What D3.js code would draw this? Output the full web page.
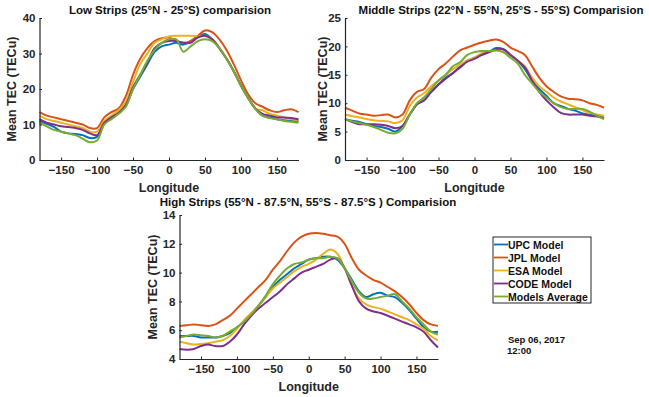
<!DOCTYPE html>
<html>
<head>
<meta charset="utf-8">
<script src="https://cdn.jsdelivr.net/npm/d3@7"></script>
<style>
  body { margin: 0; background: #fff; }
  svg { font-family: "Liberation Sans", Arial, sans-serif; font-weight: bold; }
</style>
</head>
<body>
<div id="chart"></div>
<script>
// longitudes (every 10 deg)
const lon = d3.range(-180, 181, 10);

const models = ["UPC Model", "JPL Model", "ESA Model", "CODE Model", "Models Average"];
const colors = ["#0072BD", "#D95319", "#EDB120", "#7E2F8E", "#77AC30"];

// Low strips
const lowUPC = [11, 10.2, 9.3, 8, 7.5, 7.3, 7, 6.2, 6.5, 10.5, 12, 13.5, 15.5, 20, 23.5, 27, 30.5, 32, 32.5, 33, 32.5, 33.5, 34.8, 35.5, 34, 31.5, 28.5, 25, 21, 17.5, 14.5, 12.5, 12, 11.5, 11.2, 11, 11];
const lowJPL = [13.5, 12.5, 12, 11.5, 11, 10.5, 10, 9, 9, 12, 13.5, 14.5, 18, 24, 28.5, 31.5, 33.5, 34.3, 34.5, 33.5, 33, 33.5, 35, 36.5, 36, 34, 31, 27, 22.5, 18.5, 16, 15, 14, 13.5, 14, 14.3, 13.5];
const lowESA = [12.5, 11.5, 11, 10.5, 10, 9.5, 9, 8, 8, 11, 12.5, 14, 16.5, 22, 27, 30, 33, 34, 34.8, 35, 35, 35, 34.8, 35, 34, 31.5, 28.5, 25, 21, 17.5, 14.5, 14, 13, 12.5, 12, 11.5, 11.3];
const lowCODE = [11.5, 10.5, 10, 9.5, 9.3, 9, 8.5, 7.5, 7, 10.5, 12, 13.2, 15.5, 20.5, 24, 27.5, 31.5, 33, 33.5, 33.5, 33, 33, 34.5, 35, 34, 31.5, 28.5, 25, 21, 17.5, 14.5, 13, 12.5, 12, 12, 11.8, 11.5];
const lowAVG = [10.5, 9.5, 8.5, 8, 7.5, 7, 6, 5, 5.5, 10, 11.5, 13, 15, 20, 24, 28, 31, 33, 34, 34, 30.5, 32, 33.5, 34, 33.5, 31.5, 28.5, 25, 21, 17.5, 14.5, 12.5, 11.8, 11.5, 11, 10.8, 10.5];

// Middle strips
const midUPC = [7.2, 6.9, 6.7, 6.3, 6, 5.8, 5.5, 5, 6, 8, 9.8, 11, 12, 13.3, 14.5, 15.3, 16.5, 17.5, 18, 18.5, 19, 19.7, 19.5, 18.5, 17.5, 16, 14, 12.5, 11.3, 10, 9.5, 9, 8.7, 8.2, 8, 7.7, 7.5];
const midJPL = [9.2, 8.7, 8.2, 8, 7.8, 7.9, 8, 7.5, 8, 10.5, 12, 12.5, 14.5, 16, 17, 18.2, 19.3, 19.8, 20.3, 20.7, 21, 21.2, 20.8, 19.8, 19.2, 18.5, 16.5, 14.5, 13, 12, 11.2, 10.8, 10.7, 10.5, 10, 9.7, 9.2];
const midESA = [8, 7.7, 7.5, 7.2, 7, 6.9, 6.8, 6.5, 7, 9.5, 11, 11.8, 13, 14, 15, 16, 16.8, 17.5, 18, 18.8, 19, 19.3, 19, 18.5, 17.5, 16.5, 14.5, 13, 12, 11, 10.3, 9.8, 9.3, 8.8, 8.3, 8, 7.8];
const midCODE = [7.2, 6.7, 6.3, 6.3, 6.3, 6.2, 6, 5.6, 6, 8, 9.8, 10.5, 12, 13.3, 14.3, 15.3, 16.3, 17.3, 17.8, 18.5, 19, 19.5, 19.5, 18.5, 17.5, 16.3, 14, 12, 10.5, 9.3, 8.3, 8, 8, 8, 7.8, 7.7, 7.3];
const midAVG = [7.2, 6.8, 6.5, 6.2, 5.8, 5.3, 4.8, 4.7, 5.5, 8, 10, 11, 12.5, 14, 15, 16.5, 17.2, 18.5, 19, 19.2, 19.2, 19.3, 19, 18, 17, 15, 13.5, 12, 11, 10, 9.3, 9, 9, 9, 8.5, 7.8, 7.2];

// High strips
const highUPC = [5.6, 5.6, 5.6, 5.5, 5.5, 5.5, 5.6, 5.8, 6.2, 6.6, 7.1, 7.7, 8.3, 9, 9.5, 9.9, 10.3, 10.6, 10.9, 11, 11.1, 11.1, 10.9, 10.3, 9.5, 8.7, 8.3, 8.5, 8.6, 8.4, 8.3, 7.9, 7.4, 6.8, 6.2, 5.9, 5.9];
const highJPL = [6.3, 6.35, 6.4, 6.35, 6.3, 6.4, 6.7, 7, 7.5, 8, 8.5, 9, 9.5, 10.2, 10.8, 11.5, 12.1, 12.5, 12.7, 12.75, 12.7, 12.6, 12.5, 12, 11, 10.2, 9.8, 9.5, 9.3, 9, 8.7, 8.3, 7.8, 7.2, 6.7, 6.4, 6.3];
const highESA = [5.2, 5.1, 5, 5.05, 5.1, 5.2, 5.3, 5.6, 6.1, 6.7, 7.2, 7.7, 8.3, 8.9, 9.3, 9.7, 10.1, 10.4, 10.6, 10.9, 11.3, 11.6, 11.3, 10.3, 9.1, 8.2, 7.8, 7.6, 7.5, 7.3, 7.1, 6.9, 6.7, 6.4, 6.1, 5.6, 5.3];
const highCODE = [4.7, 4.65, 4.7, 4.9, 5, 4.9, 4.9, 5.2, 5.7, 6.4, 7, 7.5, 7.9, 8.3, 8.7, 9.2, 9.6, 10, 10.2, 10.4, 10.6, 10.9, 11, 10.3, 9.1, 8, 7.5, 7.3, 7.2, 7, 6.8, 6.6, 6.4, 6.2, 5.9, 5.3, 4.8];
const highAVG = [5.5, 5.6, 5.7, 5.65, 5.6, 5.5, 5.6, 5.9, 6.2, 6.6, 7.1, 7.7, 8.4, 9.2, 9.8, 10.3, 10.6, 10.7, 10.9, 11, 11, 11.1, 11, 10.3, 9.4, 8.6, 8.2, 8.2, 8.3, 8.4, 8.5, 8, 7.5, 6.9, 6.4, 5.9, 5.7];

const lonTicks = [-150, -100, -50, 0, 50, 100, 150];

const panels = [
  { title: "Low Strips (25°N - 25°S) comparision", titleX: 170, titleY: 14,
    left: 39.5, right: 298.5, top: 18, bottom: 160, yDomain: [0, 40], yTicks: [0, 10, 20, 30, 40],
    ylabX: 16, series: [lowUPC, lowJPL, lowESA, lowCODE, lowAVG] },
  { title: "Middle Strips (22°N - 55°N, 25°S - 55°S) Comparision", titleX: 501, titleY: 14,
    left: 345, right: 604, top: 18, bottom: 160, yDomain: [0, 25], yTicks: [0, 5, 10, 15, 20, 25],
    ylabX: 327, series: [midUPC, midJPL, midESA, midCODE, midAVG] },
  { title: "High Strips (55°N - 87.5°N, 55°S - 87.5°S ) Comparision", titleX: 308, titleY: 206,
    left: 179.5, right: 438, top: 215, bottom: 359, yDomain: [4, 14], yTicks: [4, 6, 8, 10, 12, 14],
    ylabX: 157, series: [highUPC, highJPL, highESA, highCODE, highAVG] }
];

const svg = d3.select("#chart")
  .append("svg")
  .attr("width", 649)
  .attr("height", 397);

panels.forEach((p) => {
  const x = d3.scaleLinear().domain([-180, 180]).range([p.left, p.right]);
  const y = d3.scaleLinear().domain(p.yDomain).range([p.bottom, p.top]);

  const g = svg.append("g");

  // lines
  const line = d3.line()
    .x((d, i) => x(lon[i]))
    .y((d) => y(d))
    .curve(d3.curveCatmullRom.alpha(0.5));

  p.series.forEach((s, k) => {
    g.append("path")
      .datum(s)
      .attr("d", line)
      .style("fill", "none")
      .style("stroke", colors[k])
      .style("stroke-width", 2)
      .style("stroke-linejoin", "round");
  });

  // axes (MATLAB style: ticks pointing inward)
  const xAxis = g.append("g")
    .attr("transform", `translate(0,${p.bottom})`)
    .call(d3.axisBottom(x).tickValues(lonTicks).tickSizeInner(-2.5).tickSizeOuter(0).tickPadding(6));
  const yAxis = g.append("g")
    .attr("transform", `translate(${p.left},0)`)
    .call(d3.axisLeft(y).tickValues(p.yTicks).tickSizeInner(-2.5).tickSizeOuter(0).tickPadding(4));

  [xAxis, yAxis].forEach((a) => {
    a.select(".domain").attr("stroke", "#262626").attr("stroke-width", 1.2);
    a.selectAll(".tick line").attr("stroke", "#262626");
    a.selectAll("text")
      .attr("fill", "#262626")
      .style("font-size", "11.5px")
      .style("font-family", "\"Liberation Sans\", Arial, sans-serif")
      .style("font-weight", "bold");
  });

  // title
  svg.append("text")
    .attr("x", p.titleX)
    .attr("y", p.titleY)
    .attr("text-anchor", "middle")
    .style("font-size", "11.5px")
    .attr("fill", "#111")
    .text(p.title);

  // x label
  svg.append("text")
    .attr("x", (p.left + p.right) / 2)
    .attr("y", p.bottom + 32)
    .attr("text-anchor", "middle")
    .style("font-size", "12.5px")
    .attr("fill", "#262626")
    .text("Longitude");

  // y label
  svg.append("text")
    .attr("transform", `translate(${p.ylabX},${(p.top + p.bottom) / 2}) rotate(-90)`)
    .attr("text-anchor", "middle")
    .style("font-size", "12.5px")
    .attr("fill", "#262626")
    .text("Mean TEC (TECu)");
});

// legend
const legend = svg.append("g").attr("transform", "translate(493,237)");
legend.append("rect")
  .attr("width", 98)
  .attr("height", 66)
  .style("fill", "#fff")
  .style("stroke", "#262626")
  .style("stroke-width", 1);

models.forEach((m, i) => {
  const yy = 7.5 + i * 13;
  legend.append("line")
    .attr("x1", 1).attr("x2", 15)
    .attr("y1", yy).attr("y2", yy)
    .style("stroke", colors[i])
    .style("stroke-width", 1.8);
  legend.append("text")
    .attr("x", 15)
    .attr("y", yy + 4)
    .style("font-size", "10.5px")
    .attr("fill", "#111")
    .text(m);
});

// date stamp
svg.append("text")
  .attr("x", 508).attr("y", 343)
  .style("font-size", "9.5px")
  .attr("fill", "#111")
  .text("Sep 06, 2017");
svg.append("text")
  .attr("x", 507).attr("y", 354)
  .style("font-size", "9.5px")
  .attr("fill", "#111")
  .text("12:00");
</script>
</body>
</html>
